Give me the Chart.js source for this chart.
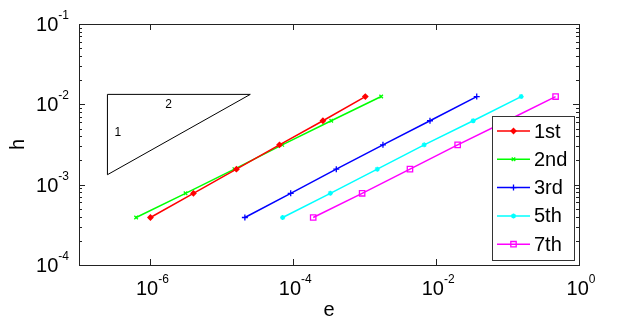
<!DOCTYPE html>
<html>
<head>
<meta charset="utf-8">
<script src="https://cdn.jsdelivr.net/npm/chart.js@4.4.1/dist/chart.umd.min.js"></script>
<style>
    html, body { margin: 0; padding: 0; background: #fff; }
    #wrap { width: 628px; height: 324px; }
</style>
</head>
<body>
<div id="wrap"><canvas id="errChart" width="628" height="324"></canvas></div>
<script>
// h values shared by every series
const hValues = [0.00039, 0.00078, 0.00156, 0.00313, 0.00625, 0.0125];

// e values, one array per order
const e1st = [1.0e-6, 4.0e-6, 1.6e-5, 6.4e-5, 2.6e-4, 1.02e-3];
const e2nd = [6.3e-7, 3.1e-6, 1.5e-5, 7.0e-5, 3.4e-4, 1.7e-3];
const e3rd = [2.1e-5, 9.2e-5, 4.0e-4, 1.8e-3, 8.2e-3, 3.7e-2];
const e5th = [7.1e-5, 3.3e-4, 1.5e-3, 6.8e-3, 3.3e-2, 1.55e-1];
const e7th = [1.9e-4, 9.2e-4, 4.3e-3, 2.0e-2, 9.8e-2, 4.7e-1];

const seriesLabels = ['1st', '2nd', '3rd', '5th', '7th'];

// slope triangle
const triX = [2.5e-7, 2.5e-5, 2.5e-7, 2.5e-7];
const triY = [0.0133, 0.0133, 0.00133, 0.0133];

// tick labels (powers of ten)
const xTickExps = [-6, -4, -2, 0];
const yTickExps = [-4, -3, -2, -1];

const FONT = "'Liberation Sans', Arial, sans-serif";

function pts(xs, ys) {
    return xs.map((x, i) => ({ x: x, y: ys[i] }));
}

function series(label, e, color, style, radius, fill) {
    return {
        label: label,
        data: pts(e, hValues),
        borderColor: color,
        backgroundColor: fill ? color : 'rgba(0,0,0,0)',
        borderWidth: 1.5,
        pointStyle: style,
        pointRadius: radius,
        pointBorderWidth: 1.3,
        pointBorderColor: color,
        pointBackgroundColor: fill ? color : 'rgba(0,0,0,0)',
        showLine: true,
        tension: 0
    };
}

function powLabel(ctx, exp, x, y, align) {
    const base = '10';
    const sup = String(exp);
    ctx.font = '20px ' + FONT;
    const wb = ctx.measureText(base).width;
    ctx.font = '12px ' + FONT;
    const ws = ctx.measureText(sup).width;
    const total = wb + ws;
    let left = align === 'center' ? x - total / 2 : x - total;
    ctx.textAlign = 'left';
    ctx.textBaseline = 'alphabetic';
    ctx.font = '20px ' + FONT;
    ctx.fillText(base, left, y);
    ctx.font = '12px ' + FONT;
    ctx.fillText(sup, left + wb, y - 12);
}

const framePlugin = {
    id: 'frame',
    afterDatasetsDraw(chart) {
        const ctx = chart.ctx;
        const a = chart.chartArea;
        const xs = chart.scales.x;
        const ys = chart.scales.y;
        ctx.save();

        // triangle labels
        ctx.fillStyle = '#000';
        ctx.font = '12px ' + FONT;
        ctx.textAlign = 'center';
        ctx.textBaseline = 'middle';
        ctx.fillText('1', xs.getPixelForValue(3.5e-7), ys.getPixelForValue(0.0045));
        ctx.fillText('2', xs.getPixelForValue(1.8e-6), ys.getPixelForValue(0.0098));

        // box
        ctx.strokeStyle = '#222';
        ctx.lineWidth = 1;
        ctx.strokeRect(a.left + 0.5, a.top + 0.5, a.right - a.left, a.bottom - a.top);

        // y ticks, major and minor, inward on both sides
        ctx.beginPath();
        for (let p = -4; p <= -1; p++) {
            for (let m = 1; m <= 9; m++) {
                const v = m * Math.pow(10, p);
                if (v > 0.1 * 1.0001) break;
                const py = Math.round(ys.getPixelForValue(v)) + 0.5;
                const len = m === 1 ? 6 : 3;
                ctx.moveTo(a.left, py); ctx.lineTo(a.left + len, py);
                ctx.moveTo(a.right, py); ctx.lineTo(a.right - len, py);
            }
        }
        // x ticks, every second decade
        xTickExps.forEach(p => {
            const px = Math.round(xs.getPixelForValue(Math.pow(10, p))) + 0.5;
            ctx.moveTo(px, a.bottom); ctx.lineTo(px, a.bottom - 6);
            ctx.moveTo(px, a.top); ctx.lineTo(px, a.top + 6);
        });
        ctx.stroke();

        // tick labels
        ctx.fillStyle = '#000';
        xTickExps.forEach(p => {
            powLabel(ctx, p, xs.getPixelForValue(Math.pow(10, p)) + 2, a.bottom + 30, 'center');
        });
        yTickExps.forEach(p => {
            powLabel(ctx, p, a.left - 10, ys.getPixelForValue(Math.pow(10, p)) + 7, 'right');
        });

        // axis titles
        ctx.font = '20px ' + FONT;
        ctx.textAlign = 'center';
        ctx.textBaseline = 'alphabetic';
        ctx.fillText('e', (a.left + a.right) / 2, 316);
        ctx.save();
        ctx.translate(24, (a.top + a.bottom) / 2);
        ctx.rotate(-Math.PI / 2);
        ctx.fillText('h', 0, 0);
        ctx.restore();

        ctx.restore();
    },
    afterDraw(chart) {
        // legend box inside the axes
        const ctx = chart.ctx;
        const bx = 492, by = 116, bw = 82, bh = 144;
        ctx.save();
        ctx.fillStyle = '#fff';
        ctx.fillRect(bx, by, bw, bh);
        ctx.strokeStyle = '#333';
        ctx.lineWidth = 1;
        ctx.strokeRect(bx + 0.5, by + 0.5, bw, bh);
        const sets = chart.data.datasets.filter(d => seriesLabels.includes(d.label));
        sets.forEach((d, i) => {
            const y = 131 + i * 28.3;
            ctx.strokeStyle = d.borderColor;
            ctx.fillStyle = d.pointBackgroundColor;
            ctx.lineWidth = 1.5;
            ctx.beginPath();
            ctx.moveTo(497, y);
            ctx.lineTo(530, y);
            ctx.stroke();
            ctx.lineWidth = 1.3;
            Chart.helpers.drawPoint(ctx, {
                pointStyle: d.pointStyle,
                radius: d.pointRadius,
                rotation: 0,
                borderWidth: 1.3
            }, 513.5, y);
            ctx.fillStyle = '#000';
            ctx.font = '20px ' + FONT;
            ctx.textAlign = 'left';
            ctx.textBaseline = 'middle';
            ctx.fillText(d.label, 534, y + 1);
        });
        ctx.restore();
    }
};

const datasets = [
    series('1st', e1st, '#ff0000', 'rectRot', 2.5, true),
    series('2nd', e2nd, '#00ff00', 'crossRot', 2.5, false),
    series('3rd', e3rd, '#0000ff', 'cross', 3, false),
    series('5th', e5th, '#00ffff', 'star', 2.5, true),
    series('7th', e7th, '#ff00ff', 'rect', 3.8, false),
    {
        label: 'slope',
        data: pts(triX, triY),
        borderColor: '#000',
        borderWidth: 1,
        pointRadius: 0,
        showLine: true,
        tension: 0
    }
];

new Chart(document.getElementById('errChart'), {
    type: 'scatter',
    data: { datasets: datasets },
    options: {
        responsive: false,
        animation: false,
        layout: { padding: { left: 79, right: 49, top: 24, bottom: 59 } },
        scales: {
            x: { type: 'logarithmic', min: 1e-7, max: 1, display: false },
            y: { type: 'logarithmic', min: 1e-4, max: 1e-1, display: false }
        },
        plugins: {
            legend: { display: false },
            tooltip: { enabled: false }
        }
    },
    plugins: [framePlugin]
});
</script>
</body>
</html>
